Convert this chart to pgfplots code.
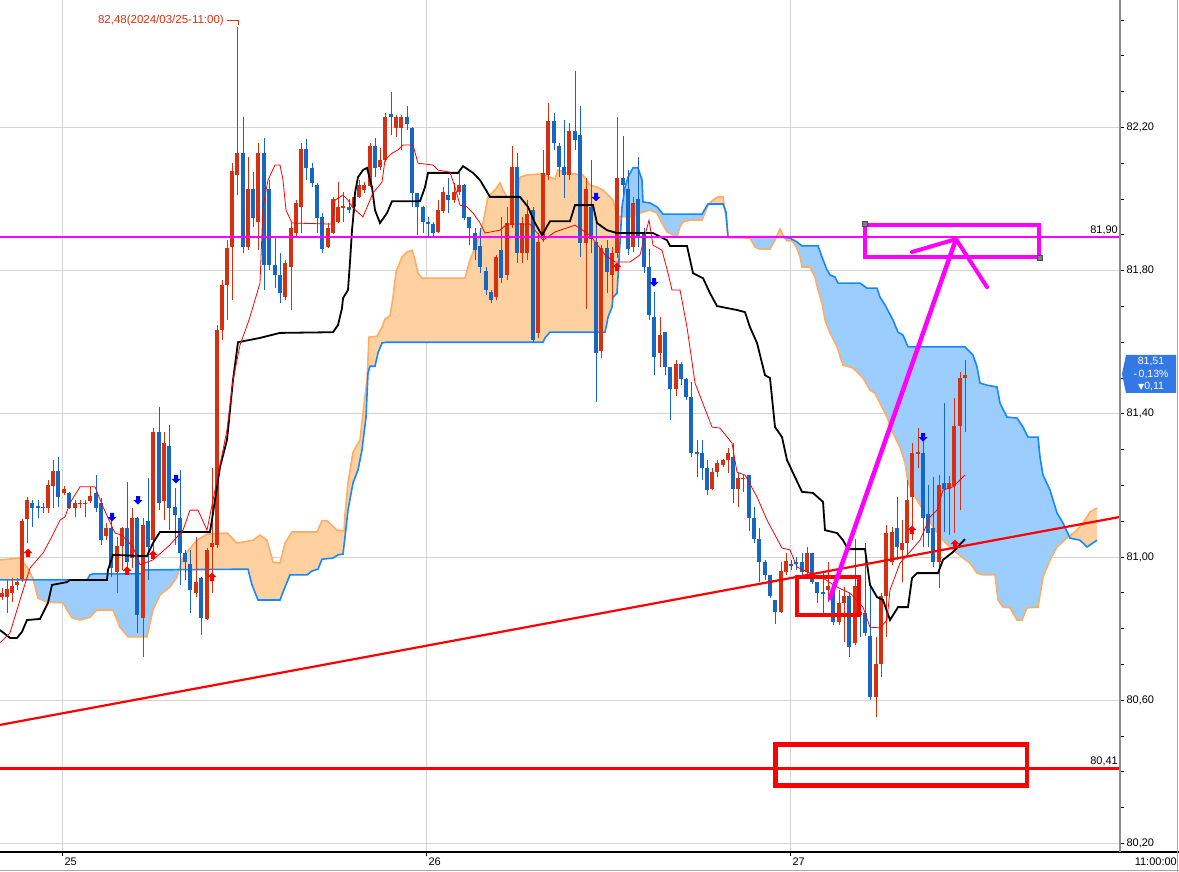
\documentclass[border=0pt]{standalone}
\usepackage{pgfplots}
\pgfplotsset{compat=1.18}
\usepgfplotslibrary{fillbetween}
\usepackage{pgfplotstable}
\usepackage{fontspec}
\setmainfont{Liberation Sans}
\newfontfamily\dv{DejaVu Sans}
\definecolor{cred}{RGB}{214,48,16}
\definecolor{cblue}{RGB}{22,102,196}
\definecolor{aline}{RGB}{255,172,100}
\definecolor{afill}{RGB}{255,208,160}
\definecolor{bline}{RGB}{20,136,255}
\definecolor{bfill}{RGB}{155,205,255}
\definecolor{gridc}{RGB}{212,212,212}
\definecolor{mag}{RGB}{255,0,255}
\definecolor{pbox}{RGB}{52,120,230}

\pgfdeclareplotmark{upar}{%
 \pgfpathmoveto{\pgfqpoint{0pt}{4.5pt}}\pgfpathlineto{\pgfqpoint{4.5pt}{0pt}}%
 \pgfpathlineto{\pgfqpoint{2pt}{0pt}}\pgfpathlineto{\pgfqpoint{2pt}{-4pt}}%
 \pgfpathlineto{\pgfqpoint{-2pt}{-4pt}}\pgfpathlineto{\pgfqpoint{-2pt}{0pt}}%
 \pgfpathlineto{\pgfqpoint{-4.5pt}{0pt}}\pgfpathclose\pgfusepathqfill}
\pgfdeclareplotmark{dnar}{%
 \pgfpathmoveto{\pgfqpoint{0pt}{-4.5pt}}\pgfpathlineto{\pgfqpoint{4.5pt}{0pt}}%
 \pgfpathlineto{\pgfqpoint{2pt}{0pt}}\pgfpathlineto{\pgfqpoint{2pt}{4pt}}%
 \pgfpathlineto{\pgfqpoint{-2pt}{4pt}}\pgfpathlineto{\pgfqpoint{-2pt}{0pt}}%
 \pgfpathlineto{\pgfqpoint{-4.5pt}{0pt}}\pgfpathclose\pgfusepathqfill}
\pgfdeclareplotmark{nothing}{}

\pgfplotstableread{
x o h l c
2 80.888 80.913 80.880 80.899
7 80.888 80.936 80.844 80.911
12 80.899 80.941 80.874 80.919
17 80.922 80.941 80.908 80.930
22 80.939 81.106 80.930 81.101
27 81.106 81.168 81.039 81.159
48 81.137 81.215 81.123 81.201
53 81.198 81.271 81.137 81.240
64 81.179 81.198 81.173 81.190
75 81.137 81.159 81.112 81.151
80 81.148 81.159 81.137 81.151
85 81.148 81.159 81.112 81.151
90 81.156 81.196 81.151 81.170
106 81.059 81.095 81.047 81.081
117 80.958 81.056 80.899 81.031
122 81.031 81.084 80.964 81.081
132 80.997 81.137 80.969 81.109
143 80.830 81.109 80.721 81.089
153 81.047 81.360 81.000 81.349
164 81.156 81.349 81.103 81.318
196 80.899 81.056 80.888 80.930
207 80.827 81.025 80.824 81.020
212 81.028 81.249 80.899 81.039
217 81.034 81.648 81.025 81.634
222 81.634 81.774 81.606 81.760
227 81.760 81.885 81.662 81.863
232 81.866 82.100 81.718 82.078
237 82.067 82.480 82.011 82.128
248 81.866 82.117 81.857 82.028
258 81.936 82.156 81.857 82.128
285 81.726 81.830 81.718 81.821
291 81.810 81.933 81.690 81.919
296 81.905 81.997 81.894 81.989
301 81.978 82.156 81.905 82.140
328 81.866 81.933 81.863 81.919
333 81.905 82.006 81.902 82.000
338 81.936 82.047 81.933 81.978
343 81.975 82.019 81.936 81.980
354 81.978 82.017 81.961 82.006
359 82.006 82.053 82.003 82.039
364 82.025 82.047 82.017 82.039
370 82.036 82.156 82.033 82.148
380 82.089 82.142 82.081 82.109
385 82.109 82.240 82.103 82.229
396 82.198 82.235 82.173 82.229
401 82.198 82.235 82.137 82.229
438 81.908 81.997 81.905 81.969
443 81.966 82.033 81.961 82.019
454 81.997 82.045 81.989 82.019
459 82.019 82.075 82.011 82.039
496 81.726 81.844 81.718 81.838
507 81.788 81.978 81.774 81.933
512 81.927 82.148 81.919 82.089
522 81.849 81.950 81.821 81.933
527 81.849 81.997 81.830 81.958
538 81.626 81.905 81.612 81.880
543 81.894 82.137 81.880 82.073
548 82.067 82.268 82.053 82.218
569 82.067 82.212 82.053 82.190
586 81.877 82.059 81.693 82.028
601 81.575 81.871 81.556 81.863
612 81.788 81.866 81.718 81.849
617 81.849 82.229 81.835 82.059
633 81.866 82.006 81.852 81.989
660 81.570 81.670 81.531 81.620
676 81.469 81.550 81.450 81.539
712 81.190 81.249 81.187 81.237
717 81.237 81.271 81.223 81.263
723 81.257 81.274 81.251 81.271
728 81.271 81.304 81.235 81.290
738 81.190 81.235 81.140 81.221
743 81.218 81.229 81.182 81.221
781 80.846 80.986 80.844 80.961
786 80.958 81.011 80.950 80.989
807 80.958 81.028 80.950 81.011
828 80.908 80.986 80.874 80.919
839 80.818 80.908 80.810 80.872
844 80.872 80.916 80.763 80.891
855 80.760 81.050 80.754 80.919
876 80.609 80.777 80.553 80.701
881 80.701 80.899 80.665 80.891
886 80.891 81.089 80.777 81.067
892 80.986 81.084 80.978 81.070
902 81.020 81.103 80.930 81.039
907 81.039 81.215 81.006 81.159
912 81.168 81.318 81.047 81.290
918 81.288 81.360 81.249 81.293
939 80.986 81.229 80.913 81.201
949 81.190 81.226 81.061 81.207
954 81.198 81.444 81.067 81.366
960 81.366 81.517 81.131 81.500
965 81.500 81.550 81.349 81.508
}\tup

\pgfplotstableread{
x o h l c
32 81.151 81.159 81.084 81.137
38 81.142 81.159 81.109 81.137
43 81.140 81.151 81.123 81.137
58 81.240 81.279 81.140 81.168
69 81.179 81.182 81.134 81.137
96 81.179 81.229 81.126 81.137
101 81.151 81.165 81.034 81.047
111 81.081 81.109 80.944 80.969
127 81.081 81.209 80.964 80.986
137 81.109 81.112 80.788 80.838
148 81.101 81.221 80.936 81.028
159 81.349 81.419 81.131 81.151
169 81.310 81.369 81.075 81.137
175 81.140 81.193 81.034 81.117
180 81.109 81.243 80.922 81.011
185 81.011 81.020 80.936 80.986
190 80.980 81.020 80.844 80.908
201 80.941 80.944 80.782 80.830
243 82.128 82.229 81.849 81.866
253 82.028 82.075 81.922 81.947
264 82.128 82.170 81.746 81.816
269 82.028 82.053 81.802 81.816
275 81.816 81.891 81.751 81.788
280 81.788 81.849 81.709 81.737
306 82.140 82.167 82.053 82.087
312 82.087 82.100 82.033 82.045
317 82.039 82.045 81.905 81.947
322 81.950 81.961 81.849 81.860
349 81.978 82.000 81.961 81.969
375 82.148 82.170 82.061 82.087
391 82.237 82.299 82.179 82.229
407 82.229 82.260 82.193 82.209
412 82.198 82.201 81.978 82.017
417 82.017 82.017 81.899 81.978
423 81.978 81.980 81.905 81.936
428 81.936 81.950 81.891 81.930
433 81.930 81.936 81.897 81.905
448 82.011 82.059 81.961 81.997
464 82.039 82.042 81.941 81.947
469 81.950 81.950 81.871 81.919
475 81.905 81.919 81.830 81.857
480 81.869 81.919 81.793 81.810
486 81.799 81.810 81.732 81.746
491 81.740 81.746 81.709 81.718
501 81.857 81.950 81.765 81.779
517 82.089 82.128 81.821 81.849
533 81.969 81.978 81.600 81.606
554 82.218 82.240 82.137 82.156
559 82.148 82.156 82.061 82.089
564 82.089 82.221 82.003 82.067
575 82.190 82.357 82.137 82.165
580 82.179 82.260 81.838 81.877
591 81.978 82.109 81.849 81.888
596 81.880 81.950 81.433 81.570
607 81.863 81.885 81.737 81.796
623 82.059 82.176 82.011 82.039
628 82.028 82.081 81.844 81.860
638 82.000 82.117 81.866 81.894
644 81.905 81.919 81.793 81.810
649 81.810 81.860 81.662 81.676
654 81.670 81.740 81.508 81.559
665 81.628 81.628 81.508 81.531
670 81.531 81.531 81.383 81.469
681 81.539 81.545 81.480 81.497
686 81.497 81.500 81.439 81.447
691 81.447 81.489 81.279 81.290
697 81.293 81.327 81.223 81.288
702 81.290 81.327 81.215 81.249
707 81.249 81.271 81.173 81.187
733 81.279 81.318 81.151 81.190
749 81.229 81.229 81.073 81.109
754 81.109 81.140 81.039 81.050
759 81.050 81.081 80.930 80.986
765 80.986 80.992 80.936 80.950
770 80.950 80.950 80.885 80.891
775 80.880 80.880 80.813 80.846
791 80.980 80.992 80.964 80.975
796 80.986 81.000 80.964 80.980
802 80.986 81.011 80.950 80.958
812 81.011 81.011 80.925 80.930
817 80.930 80.930 80.872 80.899
823 80.902 80.955 80.844 80.897
833 80.908 80.908 80.810 80.818
849 80.891 80.899 80.721 80.749
860 80.846 80.927 80.777 80.838
865 80.844 81.039 80.779 80.788
870 80.779 80.927 80.601 80.609
897 81.081 81.168 80.992 81.028
923 81.290 81.327 81.028 81.109
928 81.120 81.201 81.028 81.067
933 81.081 81.223 80.972 80.986
944 81.207 81.430 81.070 81.190
}\tdown

\pgfplotstableread{
x y
0 80.760
10 80.788
20 80.880
30 80.969
37 80.992
43 81.011
50 81.047
60 81.103
65 81.112
70 81.151
80 81.196
95 81.196
103 81.140
115 81.067
122 81.061
133 81.028
140 80.978
153 80.992
170 81.034
183 81.075
190 81.131
198 81.131
207 81.075
213 81.159
227 81.355
233 81.494
240 81.592
249 81.662
260 81.765
263 81.978
268 82.053
275 82.095
280 82.095
283 82.053
286 81.969
292 81.933
332 81.930
335 81.997
343 82.011
348 81.997
352 81.978
363 81.950
373 82.017
382 82.047
385 82.109
392 82.128
398 82.137
403 82.151
413 82.151
418 82.100
433 82.095
438 82.081
450 82.075
455 82.033
460 81.983
467 81.978
473 81.961
480 81.933
485 81.905
500 81.913
507 81.930
530 81.930
543 81.885
555 81.908
575 81.927
590 81.899
605 81.844
615 81.824
630 81.824
640 81.844
645 81.899
649 81.941
653 81.871
662 81.857
668 81.793
672 81.746
680 81.746
687 81.642
695 81.486
712 81.363
720 81.360
732 81.318
737 81.237
745 81.229
757 81.168
767 81.103
782 81.025
790 81.020
797 80.972
810 80.955
823 80.941
837 80.916
850 80.899
863 80.860
870 80.804
880 80.802
887 80.824
890 80.908
900 80.983
920 81.047
930 81.112
937 81.131
943 81.187
953 81.196
965 81.229
}\ttenkan

\pgfplotstableread{
x y
0 80.796
10 80.774
17 80.774
22 80.791
27 80.824
40 80.827
48 80.872
52 80.922
67 80.930
70 80.936
107 80.936
108 80.964
113 81.006
140 81.003
147 81.003
153 81.039
160 81.070
210 81.070
213 81.123
220 81.251
227 81.327
233 81.494
238 81.600
260 81.612
280 81.626
333 81.628
338 81.648
342 81.695
343 81.723
348 81.746
350 81.824
352 81.913
353 81.941
355 82.017
358 82.061
363 82.081
367 82.087
372 82.033
375 81.969
380 81.933
387 81.961
392 81.994
420 81.994
425 82.033
428 82.073
458 82.073
463 82.092
473 82.073
480 82.053
490 82.006
520 82.006
528 81.978
535 81.933
542 81.899
550 81.938
570 81.938
575 81.983
593 81.983
597 81.933
607 81.913
617 81.905
653 81.905
667 81.885
670 81.869
687 81.869
693 81.793
703 81.779
710 81.737
717 81.701
737 81.690
745 81.684
750 81.642
757 81.598
765 81.508
770 81.500
775 81.363
782 81.335
787 81.271
793 81.235
802 81.182
813 81.179
823 81.154
825 81.075
837 81.067
843 81.047
848 81.022
865 81.022
870 80.922
877 80.888
883 80.880
890 80.824
898 80.860
908 80.860
912 80.941
917 80.955
938 80.955
943 80.992
953 81.014
965 81.050
}\tkijun

\pgfplotstableread{
x y
0 80.992
20 80.997
27 80.972
33 80.940
38 80.885
47 80.874
63 80.872
67 80.852
72 80.830
80 80.824
90 80.832
97 80.852
113 80.852
120 80.804
128 80.777
147 80.777
153 80.852
160 80.894
170 80.916
177 80.944
182 80.992
187 81.014
197 81.047
207 81.064
227 81.067
237 81.039
253 81.047
260 81.061
267 81.047
273 80.986
280 80.983
285 81.039
292 81.070
317 81.070
322 81.101
327 81.101
337 81.075
344 81.073
345 81.117
348 81.207
353 81.293
360 81.327
363 81.402
367 81.494
369 81.614
377 81.617
382 81.642
385 81.665
390 81.673
393 81.726
396 81.796
402 81.838
407 81.852
412 81.857
415 81.830
418 81.793
422 81.779
465 81.779
470 81.830
477 81.877
483 81.933
488 82.006
495 82.025
500 82.045
503 82.025
507 82.006
517 81.997
520 82.061
527 82.067
540 82.070
550 82.061
555 82.056
558 82.081
567 82.073
583 82.067
590 82.039
597 82.033
603 82.025
610 82.006
613 81.997
617 81.950
630 81.950
640 81.961
650 81.969
657 81.961
662 81.933
667 81.908
677 81.894
680 81.922
683 81.936
690 81.941
702 81.941
708 81.983
713 81.997
718 82.006
723 82.006
726 81.947
728 81.892
750 81.891
755 81.866
760 81.860
770 81.860
775 81.885
780 81.916
783 81.899
787 81.883
792 81.883
797 81.863
800 81.838
802 81.810
810 81.810
815 81.782
818 81.746
822 81.709
825 81.662
830 81.626
837 81.587
843 81.536
853 81.528
863 81.500
870 81.466
875 81.458
880 81.430
887 81.391
893 81.346
900 81.307
905 81.263
908 81.207
913 81.179
923 81.131
933 81.084
943 81.047
950 81.028
957 81.011
963 80.997
970 80.983
977 80.955
983 80.950
995 80.950
998 80.880
1003 80.860
1010 80.858
1017 80.824
1022 80.824
1027 80.858
1038 80.860
1043 80.944
1050 80.992
1057 81.028
1068 81.056
1077 81.075
1083 81.095
1090 81.126
1097 81.137
}\tspanA

\pgfplotstableread{
x y
0 80.936
87 80.936
90 80.950
93 80.953
143 80.953
145 80.964
248 80.966
252 80.922
258 80.880
280 80.880
285 80.916
290 80.950
307 80.950
312 80.961
318 80.966
322 80.994
333 80.997
338 81.006
343 81.008
345 81.056
348 81.131
353 81.207
358 81.243
362 81.299
366 81.391
368 81.514
370 81.533
375 81.533
378 81.570
382 81.598
387 81.600
543 81.600
545 81.612
550 81.628
605 81.628
607 81.654
608 81.670
612 81.698
613 81.726
617 81.737
618 81.782
620 81.877
622 81.978
625 82.033
628 82.061
633 82.087
638 82.087
642 82.053
643 81.992
650 81.989
657 81.978
663 81.958
702 81.958
708 81.986
723 81.986
726 81.964
728 81.895
775 81.895
790 81.891
797 81.880
802 81.869
818 81.869
822 81.838
827 81.802
830 81.788
835 81.782
838 81.765
860 81.765
867 81.751
877 81.751
880 81.726
885 81.704
893 81.662
898 81.628
903 81.620
908 81.587
965 81.587
973 81.564
977 81.531
980 81.486
987 81.480
997 81.475
1000 81.430
1007 81.391
1017 81.388
1023 81.363
1028 81.335
1038 81.335
1040 81.279
1043 81.229
1050 81.187
1057 81.123
1063 81.095
1070 81.053
1080 81.047
1087 81.028
1097 81.047
}\tspanB

\begin{document}
\begin{tikzpicture}[x=1pt,y=1pt]
\begin{axis}[
 at={(0pt,20pt)}, anchor=south west, scale only axis,
 width=1120pt, height=852pt,
 xmin=0, xmax=1120, ymin=80.176, ymax=82.556,
 axis line style={draw=none},
 xtick={62,426,790}, xticklabels={25,26,27}, xtick pos=bottom,
 ytick={80.2,80.6,81.0,81.4,81.8,82.2},
 yticklabels={{80,20},{80,60},{81,00},{81,40},{81,80},{82,20}},
 ytick pos=right,
 minor ytick={80.3,80.4,80.5,80.7,80.8,80.9,81.1,81.2,81.3,81.5,81.6,81.7,81.9,82.0,82.1,82.3,82.4,82.5},
 tick align=outside, major tick length=4pt, minor tick length=4pt,
 tick style={black, line width=0.8pt},
 grid=major, major grid style={gridc, line width=1pt},
 tick label style={font=\fontsize{11}{12}\selectfont},
 xticklabel style={anchor=north west, xshift=-1pt, yshift=2pt},
 yticklabel style={anchor=west, xshift=-1pt},
 /pgf/number format/assume math mode=true,
 candle/.style={only marks, mark=nothing, forget plot,
   error bars/.cd, y dir=plus, y explicit, error mark=none},
]
% cloud
\addplot[name path=A, draw=none, forget plot] table[x=x,y=y] \tspanA;
\addplot[name path=B, draw=none, forget plot] table[x=x,y=y] \tspanB;
\addplot[draw=none] fill between[of=A and B, split,
   every even segment/.style={fill=afill},
   every odd segment/.style={fill=bfill}];
\addplot[aline, line width=1.6pt] table[x=x,y=y] \tspanA;
\addplot[bline, line width=1.6pt] table[x=x,y=y] \tspanB;
% candles: wicks
\addplot[candle, error bar style={draw=cred, line width=1pt}]
   table[x=x, y=l, y error expr=\thisrow{h}-\thisrow{l}] \tup;
\addplot[candle, error bar style={draw=cblue, line width=1pt}]
   table[x=x, y=l, y error expr=\thisrow{h}-\thisrow{l}] \tdown;
% candles: bodies
\addplot[candle, error bar style={draw=cred, line width=4pt}]
   table[x=x, y=o, y error expr=\thisrow{c}-\thisrow{o}] \tup;
\addplot[candle, error bar style={draw=cblue, line width=4pt}]
   table[x=x, y=c, y error expr=\thisrow{o}-\thisrow{c}] \tdown;
% kijun and tenkan
\addplot[black, line width=1.8pt] table[x=x,y=y] \tkijun;
\addplot[red, line width=0.8pt] table[x=x,y=y] \ttenkan;
% signals
\addplot[only marks, mark=upar, red] coordinates {(28,81.011) (127,80.961) (153,81.006) (212,80.944) (617,81.810) (912,81.075) (955,81.036)};
\addplot[only marks, mark=dnar, blue] coordinates {(112,81.112) (138,81.159) (176,81.218) (596,82.006) (654,81.768) (923,81.335)};
% drawn lines
\addplot[red, line width=2.2pt] coordinates {(0,80.531) (1120,81.112)};
\addplot[red, line width=3pt] coordinates {(0,80.41) (1120,80.41)};
\addplot[mag, line width=2pt] coordinates {(0,81.895) (1120,81.895)};
\addplot[red, line width=4.5pt, line cap=rect, line join=miter] coordinates {(797,80.944) (859,80.944) (859,80.838) (797,80.838) (797,80.944)};
\addplot[red, line width=4.5pt, line cap=rect, line join=miter] coordinates {(775.5,80.476) (1027,80.476) (1027,80.362) (775.5,80.362) (775.5,80.476)};
\addplot[mag, line width=3.8pt, line cap=rect, line join=miter] coordinates {(865,81.927) (1039,81.927) (1039,81.838) (865,81.838) (865,81.927)};
\addplot[only marks, mark=square*, mark size=2.6pt, mark options={fill=gray, draw=black!70, line width=0.6pt}] coordinates {(865,81.930) (1040,81.835)};
\addplot[mag, line width=4.5pt, line cap=round] coordinates {(830,80.885) (956,81.888)};
\addplot[mag, line width=4pt, line cap=round, line join=round] coordinates {(912,81.852) (956,81.888) (987,81.754)};
% labels
\node[anchor=south east, inner sep=1pt, font=\fontsize{11}{12}\selectfont] at (axis cs:1119,81.897) {81,90};
\node[anchor=south east, inner sep=1pt, font=\fontsize{11}{12}\selectfont] at (axis cs:1119,80.413) {80,41};
\node[anchor=east, inner sep=0pt, text=cred, font=\fontsize{11.5}{12}\selectfont] at (axis cs:224,82.499) {82,48(2024/03/25-11:00)};
\draw[cred, line width=0.8pt] (axis cs:227,82.499) -- (axis cs:238,82.499) -- (axis cs:238,82.487);
\end{axis}
\draw[black, line width=1.2pt] (0,20) -- (1179,20);
\draw[black!45, line width=1.5pt] (1120,20) -- (1120,872);
\draw[black!35, line width=1pt] (1177.5,0) -- (1177.5,872);
\draw[black!35, line width=1.2pt] (0,1.5) -- (1179,1.5);
\fill[pbox] (1122,498) -- (1126,517) -- (1176,517) -- (1176,479) -- (1126,479) -- cycle;
\node[white, inner sep=0pt, font=\fontsize{10.5}{11}\selectfont] at (1151,510) {81,51};
\node[white, inner sep=0pt, font=\fontsize{10.5}{11}\selectfont] at (1151,497.5) {-\,0,13\%};
\node[white, inner sep=0pt, font=\fontsize{10.5}{11}\selectfont] at (1151,485) {{\dv\fontsize{8}{9}\selectfont ▼}0,11};
\node[inner sep=0pt, anchor=east, font=\fontsize{11}{12}\selectfont] at (1177,10) {11:00:00};
\pgfresetboundingbox
\useasboundingbox (0,0) rectangle (1179,872);
\end{tikzpicture}
\end{document}
